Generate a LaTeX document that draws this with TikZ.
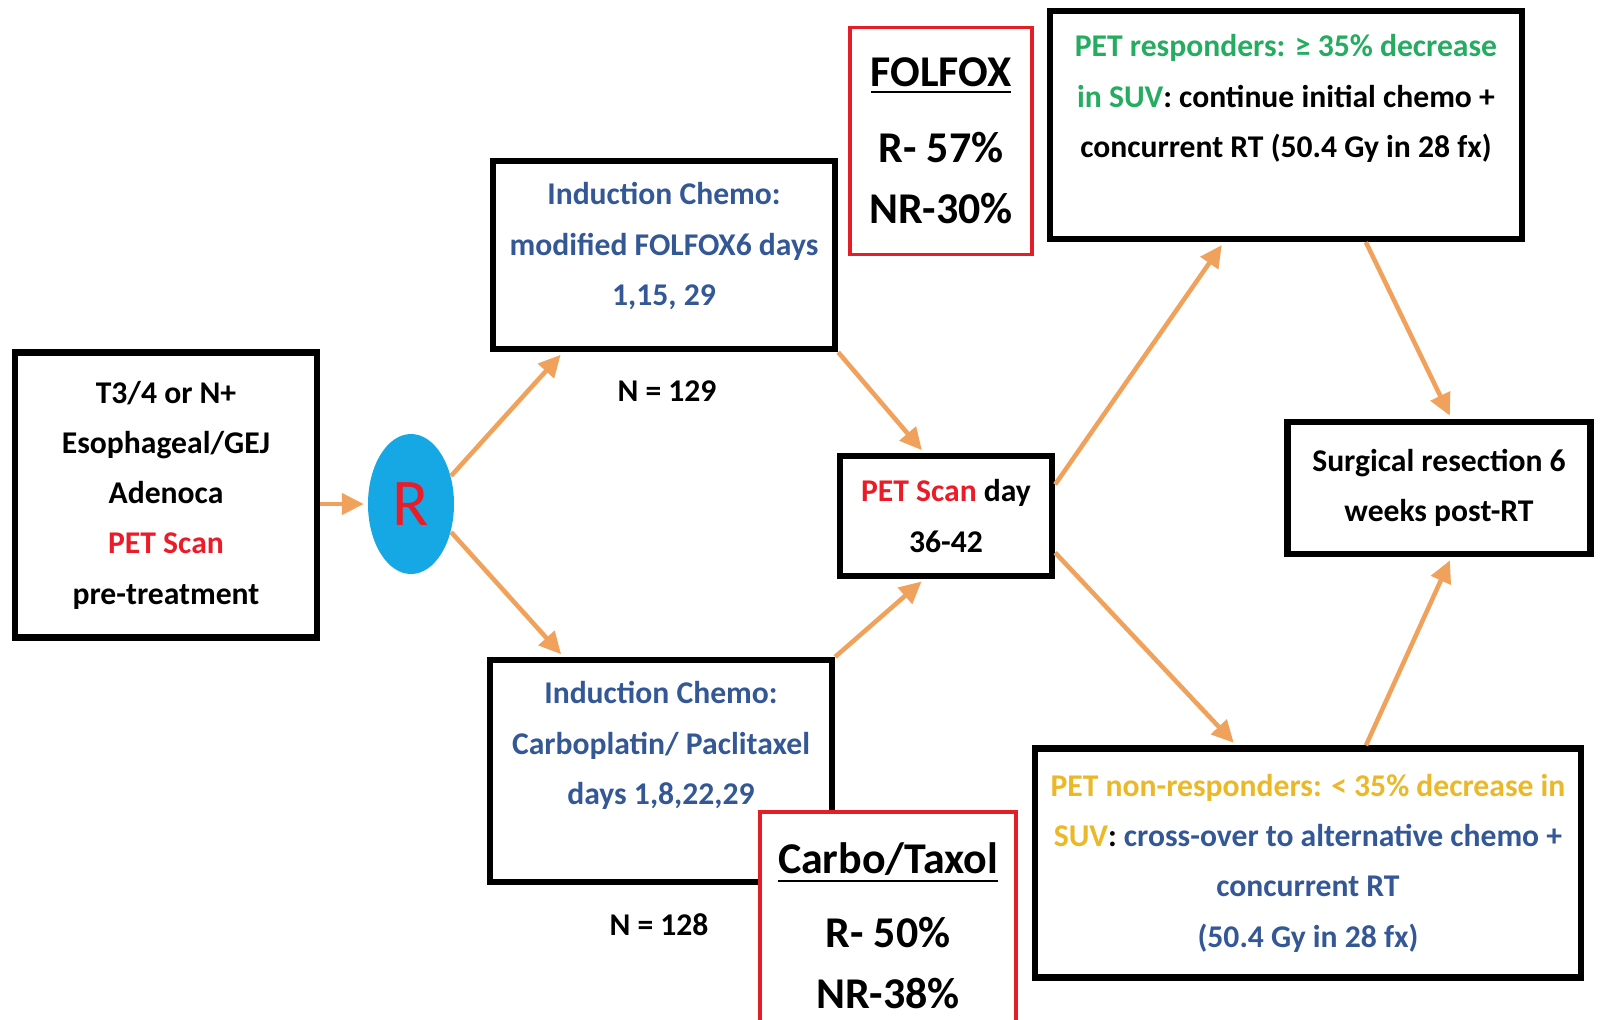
\documentclass[tikz,border=0pt]{standalone}
\usepackage{fontspec}
\setmainfont{Carlito}
\usetikzlibrary{arrows.meta,calc,shapes.geometric}

\definecolor{flowor}{RGB}{240,162,92}
\definecolor{chemoblue}{RGB}{52,88,150}
\definecolor{petred}{RGB}{235,28,40}
\definecolor{respgreen}{RGB}{38,172,96}
\definecolor{nrgold}{RGB}{234,184,40}
\definecolor{rcyan}{RGB}{22,168,228}
\definecolor{boxred}{RGB}{228,30,38}

\newcommand{\inred}[1]{\textcolor{petred}{#1}}
\newcommand{\ingreen}[1]{\textcolor{respgreen}{#1}}
\newcommand{\ingold}[1]{\textcolor{nrgold}{#1}}
\newcommand{\inblue}[1]{\textcolor{chemoblue}{#1}}
% text lifted inside a box, size of the box kept
\newcommand{\lift}[2]{\raisebox{#1}[\height][\depth]{\begin{tabular}{@{}c@{}}#2\end{tabular}}}

\tikzset{
  stage/.style={draw, line width=1.8pt, fill=white, align=center, inner sep=0pt,
    font=\bfseries\fontsize{9}{14.3}\selectfont},
  drug/.style={draw=boxred, line width=1pt, fill=white, align=center, inner sep=0pt,
    font=\bfseries\fontsize{12.5}{17.3}\selectfont},
  count/.style={font=\bfseries\fontsize{9}{11}\selectfont},
  flow/.style={draw=flowor, line width=1.3pt, shorten >=1pt,
    -{Triangle[length=2.2mm,width=2.1mm]}},
}

\begin{document}
\begin{tikzpicture}[x=0.1mm, y=-0.1mm]
  \useasboundingbox (0,0) rectangle (1602,1020);
  %%%%%%%%%%%%%%%%% boxes %%%%%%%%%%%%%%%%%%%
  \node[stage, minimum width=30.2mm, minimum height=28.5mm] (pre) at (166,495)
    {T3/4 or N+\\Esophageal/GEJ\\Adenoca\\\inred{PET Scan}\\pre-treatment};
  \node[ellipse, fill=rcyan, minimum width=8.6mm, minimum height=14mm, inner sep=0pt,
    text=petred, font=\fontsize{19}{22}\selectfont] (R) at (411,504) {R};

  \node[stage, text=chemoblue, minimum width=34.2mm, minimum height=18.8mm] (tc) at (664,255)
    {\lift{1mm}{Induction Chemo:\\modified FOLFOX6 days\\1,15, 29}};
  \node[count] (n1) at (667,391) {N = 129};
  \node[stage, text=chemoblue, minimum width=34.2mm, minimum height=22.2mm] (bc) at (661,771)
    {\lift{2.7mm}{Induction Chemo:\\Carboplatin/ Paclitaxel\\days 1,8,22,29}};
  \node[count] (n2) at (659,925) {N = 128};

  % red drug boxes
  \node[drug, minimum width=18.2mm, minimum height=22.7mm] (folfox) at (941,141)
    {\underline{FOLFOX}\\[1.5mm]R- 57\%\\NR-30\%};
  \node[drug, minimum width=25.6mm, minimum height=22.8mm] (ct) at (888,926)
    {\underline{Carbo/Taxol}\\[1.3mm]R- 50\%\\NR-38\%};

  \node[stage, minimum width=21.2mm, minimum height=12mm] (pet) at (946,516)
    {\inred{PET Scan} day\\36-42};
  \node[stage, minimum width=47.2mm, minimum height=22.8mm] (resp) at (1286,125)
    {\lift{2.8mm}{\ingreen{PET responders: ≥ 35\% decrease}\\
      \ingreen{in SUV}: continue initial chemo +\\concurrent RT (50.4 Gy in 28 fx)}};
  \node[stage, minimum width=54.6mm, minimum height=22.9mm] (nr) at (1308,863)
    {\ingold{PET non-responders: < 35\% decrease in}\\
     \ingold{SUV}: \inblue{cross-over to alternative chemo +}\\
     \inblue{concurrent RT}\\\inblue{(50.4 Gy in 28 fx)}};
  \node[stage, minimum width=30.3mm, minimum height=13.2mm] (surg) at (1439,488)
    {Surgical resection 6\\weeks post-RT};

  %%%%%%%%%%%%%%%%% arrows %%%%%%%%%%%%%%%%%%%
  \coordinate (preout) at (pre.east |- R.west);
  \coordinate (tcin)    at ($(tc.south west)!0.21!(tc.south east)$);
  \coordinate (bcin)    at ($(bc.north west)!0.22!(bc.north east)$);
  \coordinate (petin1)  at ($(pet.north west)!0.4!(pet.north east)$);
  \coordinate (petin2)  at ($(pet.south west)!0.4!(pet.south east)$);
  \coordinate (petout1) at ($(pet.north east)!0.25!(pet.south east)$);
  \coordinate (petout2) at ($(pet.north east)!0.79!(pet.south east)$);
  \coordinate (respin)  at ($(resp.south west)!0.37!(resp.south east)$);
  \coordinate (nrin)    at ($(nr.north west)!0.37!(nr.north east)$);
  \coordinate (respout) at ($(resp.south west)!0.667!(resp.south east)$);
  \coordinate (nrout)   at ($(nr.north west)!0.605!(nr.north east)$);
  \coordinate (surgin1) at ($(surg.north west)!0.54!(surg.north east)$);
  \coordinate (surgin2) at ($(surg.south west)!0.54!(surg.south east)$);

  \foreach \a/\b in {preout/R.west, R.35/tcin, R.-35/bcin, tc.south east/petin1,
      bc.north east/petin2, petout1/respin, petout2/nrin, respout/surgin1, nrout/surgin2}
    {\draw[flow] (\a) -- (\b);}
\end{tikzpicture}
\end{document}
